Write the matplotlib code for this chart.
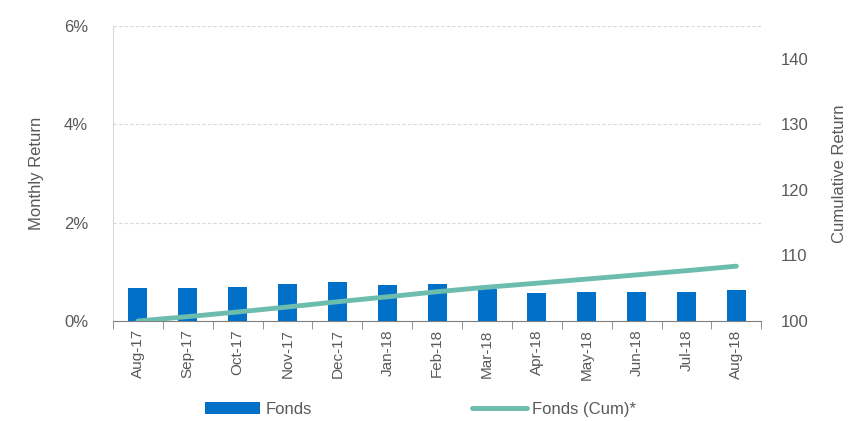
import matplotlib.pyplot as plt
import numpy as np
from matplotlib.ticker import FixedLocator

plt.rcParams['font.family'] = ['Liberation Sans', 'DejaVu Sans']

months = ["Aug-17", "Sep-17", "Oct-17", "Nov-17", "Dec-17", "Jan-18", "Feb-18",
          "Mar-18", "Apr-18", "May-18", "Jun-18", "Jul-18", "Aug-18"]
monthly_return = [0.67, 0.67, 0.70, 0.75, 0.79, 0.73, 0.75,
                  0.66, 0.58, 0.60, 0.60, 0.60, 0.64]
cumulative = [100.0, 100.67, 101.38, 102.14, 102.94, 103.69, 104.47,
              105.16, 105.77, 106.40, 107.04, 107.68, 108.37]

txt = "#595959"
bar_col = "#0070C8"
line_col = "#6DBDAE"

fig = plt.figure(figsize=(8.53, 4.21), dpi=100)
ax = fig.add_axes([0.1325, 0.2375, 0.76, 0.7005])
x = np.arange(len(months))

ax.bar(x, monthly_return, width=0.38, color=bar_col, zorder=3, label="Fonds")
ax.set_xlim(-0.5, len(months) - 0.5)
ax.set_ylim(0, 6)
ax.set_yticks([0, 2, 4, 6])
ax.set_yticklabels(["0%", "2%", "4%", "6%"])
ax.grid(axis="y", linestyle=(0, (3, 2)), color="#d9d9d9", linewidth=0.8, zorder=0)
ax.set_ylabel("Monthly Return", color=txt, fontsize=12, labelpad=14)

ax.set_xticks(x)
ax.set_xticklabels(months, rotation=90, fontsize=11, color=txt)
ax.xaxis.set_minor_locator(FixedLocator(np.arange(-0.5, len(months), 1)))
ax.tick_params(axis="x", which="major", length=0, pad=6)
ax.tick_params(axis="x", which="minor", length=6, color="#808080", direction="out")
ax.tick_params(axis="y", length=0, labelsize=12, labelcolor=txt, pad=18)

for s in ["top", "right"]:
    ax.spines[s].set_visible(False)
ax.spines["left"].set_color("#d9d9d9")
ax.spines["bottom"].set_color("#808080")

ax2 = ax.twinx()
ax2.plot(x, cumulative, color=line_col, linewidth=3.5, zorder=4, label="Fonds (Cum)*",
         solid_capstyle="round")
ax2.set_ylim(100, 145)
ax2.set_yticks([100, 110, 120, 130, 140])
ax2.tick_params(axis="y", length=0, labelsize=12, labelcolor=txt, pad=14)
ax2.set_ylabel("Cumulative Return", color=txt, fontsize=12, labelpad=17)
for s in ["top", "right", "left", "bottom"]:
    ax2.spines[s].set_visible(False)

h1, l1 = ax.get_legend_handles_labels()
h2, l2 = ax2.get_legend_handles_labels()
fig.legend(h1 + h2, l1 + l2, loc="lower center", bbox_to_anchor=(0.493, -0.025), ncol=2,
           frameon=False, fontsize=12, labelcolor=txt, columnspacing=9.6,
           handlelength=3.3, handletextpad=0.3)

fig.savefig("out.png", dpi=100)
